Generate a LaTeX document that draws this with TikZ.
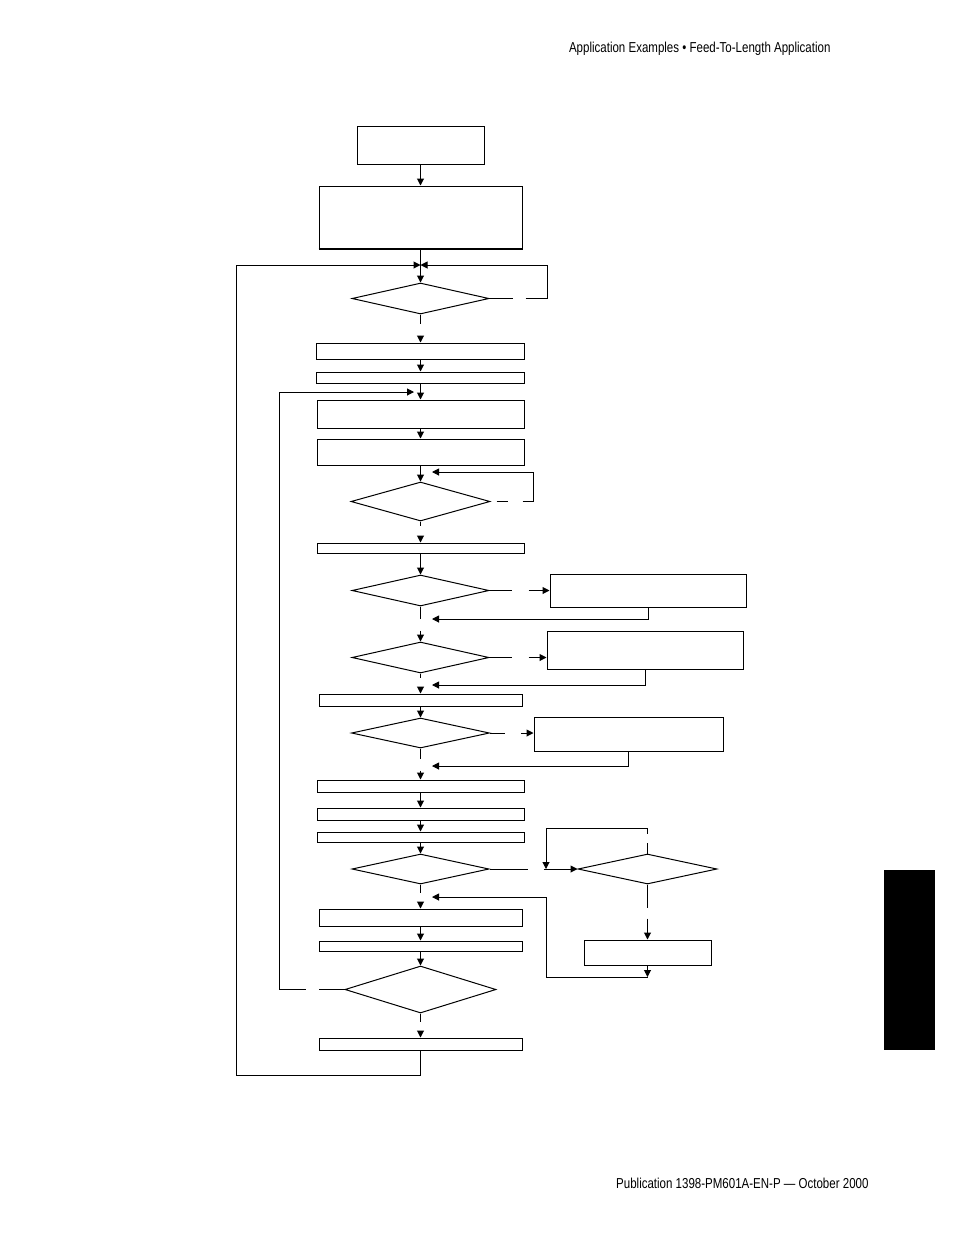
\documentclass[tikz,border=0pt]{standalone}
\usepackage{fontspec}
\newfontfamily\pagefont{Liberation Sans}[FakeStretch=0.8]
\usetikzlibrary{shapes.geometric,arrows.meta}

\begin{document}
\begin{tikzpicture}
  [x=1pt,y=-1pt,line width=1pt,
   box/.style={draw,rectangle,inner sep=0pt},
   test/.style={draw,diamond,inner sep=0pt},
   page/.style={anchor=base east,inner sep=0pt,font=\pagefont\fontsize{14.4}{16}\selectfont},
   arr/.style={-{Stealth[length=7pt,width=7pt,inset=0pt]}}] % all positions are in page pixels, y runs down

    \useasboundingbox (0,0) rectangle (954,1235);

    \node[page] (head) at (831,52)   {Application Examples • Feed-To-Length Application};
    \node[page] (foot) at (869,1188) {Publication 1398-PM601A-EN-P — October 2000};
    \fill (884,870) rectangle (935,1050);

    \node[box,minimum width=127,minimum height=38] (b1)  at (420.5,145)   {};
    \node[box,minimum width=203,minimum height=62] (b2)  at (420.5,217)   {};
    \node[test,minimum width=137,minimum height=31] (d1) at (420.5,298.5) {};
    \node[box,minimum width=208,minimum height=16] (b3)  at (420.5,351)   {};
    \node[box,minimum width=208,minimum height=11] (b4)  at (420.5,377.5) {};
    \node[box,minimum width=207,minimum height=28] (b5)  at (420.5,414)   {};
    \node[box,minimum width=207,minimum height=26] (b6)  at (420.5,452)   {};
    \node[test,minimum width=139,minimum height=39] (d2) at (420.5,501.5) {};
    \node[box,minimum width=207,minimum height=10] (b7)  at (420.5,548)   {};
    \node[test,minimum width=137,minimum height=31] (d3) at (420.5,590.5) {};
    \node[box,minimum width=196,minimum height=33] (b8)  at (648,590.5)   {};
    \node[test,minimum width=137,minimum height=31] (d4) at (420.5,657.5) {};
    \node[box,minimum width=196,minimum height=38] (b9)  at (645,650)     {};
    \node[box,minimum width=203,minimum height=12] (b10) at (420.5,700)   {};
    \node[test,minimum width=138,minimum height=30] (d5) at (420.5,733)   {};
    \node[box,minimum width=189,minimum height=34] (b11) at (628.5,734)   {};
    \node[box,minimum width=207,minimum height=12] (b12) at (420.5,786)   {};
    \node[box,minimum width=207,minimum height=12] (b13) at (420.5,814)   {};
    \node[box,minimum width=207,minimum height=10] (b14) at (420.5,837)   {};
    \node[test,minimum width=137,minimum height=30] (d6) at (420.5,869)   {};
    \node[test,minimum width=139,minimum height=30] (d7) at (647.5,869)   {};
    \node[box,minimum width=127,minimum height=25] (b15) at (647.5,952.5) {};
    \node[box,minimum width=203,minimum height=17] (b16) at (420.5,917.5) {};
    \node[box,minimum width=203,minimum height=10] (b17) at (420.5,946)   {};
    \node[test,minimum width=151,minimum height=47] (d8) at (420.5,989.5) {};
    \node[box,minimum width=203,minimum height=12] (b18) at (420.5,1044)  {};

    \draw[line width=2pt] (b2.south west) -- (b2.south east);

    \coordinate (m1) at (420.5,265);
    \coordinate (m2) at (414,392);
    \coordinate (m3) at (432,472);
    \coordinate (m4) at (432,619);
    \coordinate (m5) at (432,685);
    \coordinate (m6) at (432,766);
    \coordinate (m7) at (432,897);
    \coordinate (m8) at (546,869);
    \coordinate (m9) at (647.5,977);

    \draw[arr] (b1) -- (b2);
    \draw[arr] (b2) -- (d1);
    \draw[arr] (d1.east) -- ++(23,0) ++(13,0) -- ++(22,0) |- (m1);
    \draw[arr] (b18.south) -- ++(0,25) -- ++(-184,0) |- (m1);
    \draw[arr] (d1.south) -- ++(0,9) ++(0,12) -- (b3.north);
    \draw[arr] (b3) -- (b4);
    \draw[arr] (b4) -- (b5);
    \draw[arr] (d8.west) -- ++(-26,0) ++(-13,0) -- ++(-26,0) |- (m2);
    \draw[arr] (b5) -- (b6);
    \draw[arr] (b6) -- (d2);
    \draw[arr] (d2.east) ++(6,0) -- ++(11,0) ++(15,0) -- ++(11,0) |- (m3);
    \draw[arr] (d2.south) -- ++(0,4) ++(0,12) -- (b7.north);
    \draw[arr] (b7) -- (d3);
    \draw[arr] (d3.east) -- ++(22,0) ++(17,0) -- (b8.west |- d3.east);
    \draw[arr] (b8.south) |- (m4);
    \draw[arr] (d3.south) -- ++(0,12) ++(0,12) -- (d4.north);
    \draw[arr] (d4.east) -- ++(22,0) ++(17,0) -- (b9.west |- d4.east);
    \draw[arr] (b9.south) |- (m5);
    \draw[arr] (d4.south) -- ++(0,4) ++(0,12) -- (b10.north);
    \draw[arr] (b10) -- (d5);
    \draw[arr] (d5.east) -- ++(15,0) ++(16,0) -- (b11.west |- d5.east);
    \draw[arr] (b11.south) |- (m6);
    \draw[arr] (d5.south) -- ++(0,10) ++(0,12) -- (b12.north);
    \draw[arr] (b12) -- (b13);
    \draw[arr] (b13) -- (b14);
    \draw[arr] (b14) -- (d6);
    \draw[arr] (d6.east) -- ++(38,0) ++(16,0) -- (d7.west);
    \draw[arr] (d7.north) -- ++(0,-11) ++(0,-9) -- ++(0,-5) -| (m8);
    \draw[arr] (d7.south) -- ++(0,23) ++(0,11) -- (b15.north);
    \draw[arr] (b15.south) -- (m9);
    \draw[arr] (m9) -- ++(-101.5,0) |- (m7);
    \draw[arr] (d6.south) -- ++(0,8) ++(0,10) -- (b16.north);
    \draw[arr] (b16) -- (b17);
    \draw[arr] (b17) -- (d8);
    \draw[arr] (d8.south) -- ++(0,8) ++(0,11) -- (b18.north);

\end{tikzpicture}
\end{document}
